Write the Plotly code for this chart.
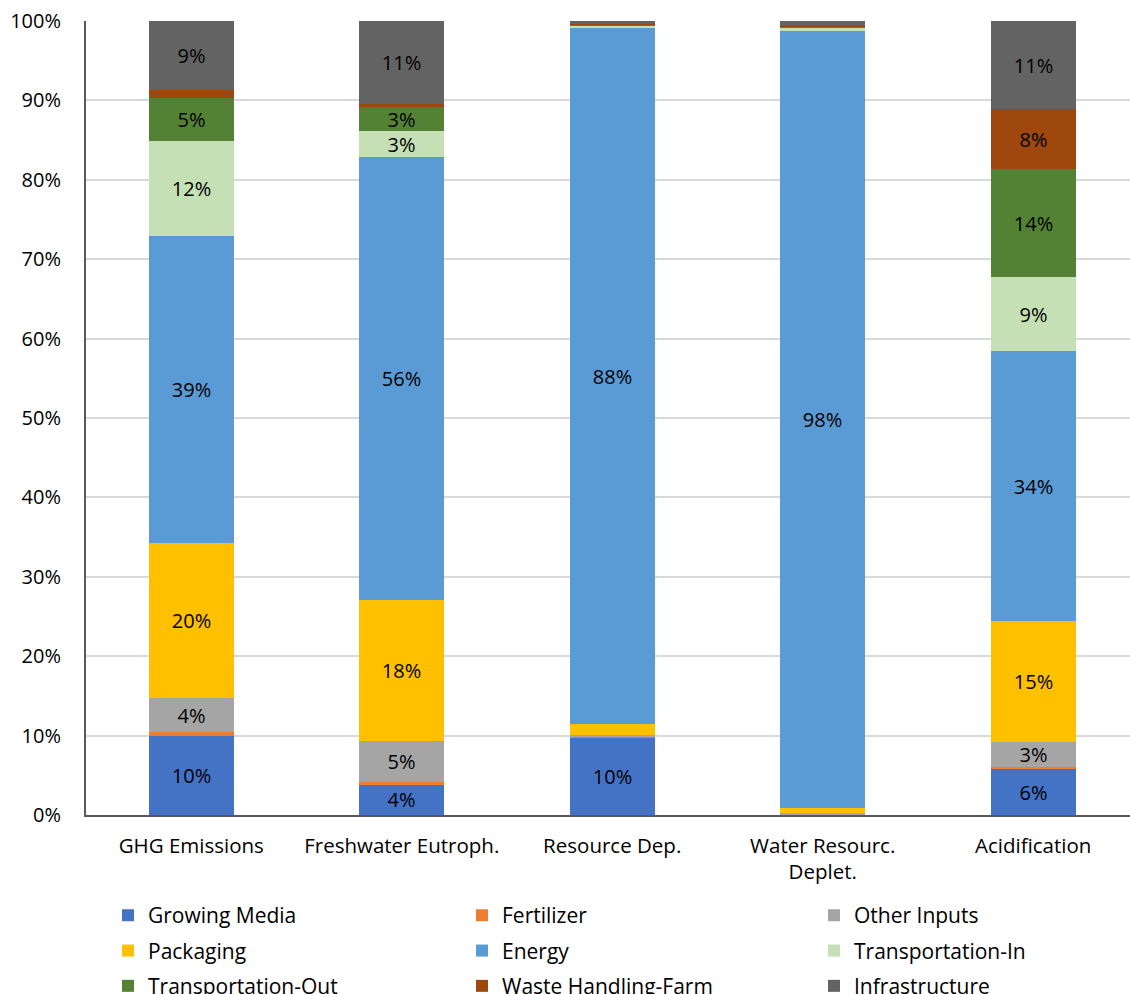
import plotly.graph_objects as go

categories = ["GHG Emissions", "Freshwater Eutroph.", "Resource Dep.", "Water Resourc.<br>Deplet.", "Acidification"]

growing_media = [10.0, 3.9, 9.7, 0.0, 5.8]
fertilizer = [0.4, 0.2, 0.1, 0.0, 0.3]
other_inputs = [4.3, 5.2, 0.3, 0.3, 3.1]
packaging = [19.6, 17.8, 1.4, 0.6, 15.2]
energy = [38.6, 55.8, 87.6, 97.9, 34.0]
transport_in = [12.0, 3.3, 0.3, 0.4, 9.3]
transport_out = [5.4, 3.0, 0.1, 0.1, 13.6]
waste_farm = [1.0, 0.3, 0.1, 0.2, 7.6]
infrastructure = [8.7, 10.6, 0.4, 0.5, 11.1]

series = [
    ("Growing Media", growing_media, "#4472C4", "legend"),
    ("Fertilizer", fertilizer, "#ED7D31", "legend2"),
    ("Other Inputs", other_inputs, "#A5A5A5", "legend3"),
    ("Packaging", packaging, "#FFC000", "legend"),
    ("Energy", energy, "#5B9BD5", "legend2"),
    ("Transportation-In", transport_in, "#C5E0B4", "legend3"),
    ("Transportation-Out", transport_out, "#548235", "legend"),
    ("Waste Handling-Farm", waste_farm, "#9E480E", "legend2"),
    ("Infrastructure", infrastructure, "#636363", "legend3"),
]

FONT = "Open Sans"

def label(v):
    return f"{round(v)}%" if v >= 2.5 else ""

fig = go.Figure()
for name, vals, color, lg in series:
    fig.add_trace(go.Bar(
        name=name, x=categories, y=vals, width=0.404,
        marker=dict(color=color, line=dict(width=0)),
        text=[label(v) for v in vals], textposition="inside",
        insidetextanchor="middle", textangle=0,
        textfont=dict(family=FONT, size=20, color="black"),
        legend=lg, legendgroup=name, hoverinfo="skip",
    ))

legend_common = dict(
    orientation="v", xref="container", yref="container",
    xanchor="left", yanchor="top", y=0.0995,
    font=dict(family=FONT, size=21, color="black"),
    bgcolor="rgba(0,0,0,0)", traceorder="grouped", tracegroupgap=5,
)

fig.update_layout(
    width=1130, height=994,
    margin=dict(l=86, r=0, t=21, b=179, autoexpand=False),
    paper_bgcolor="white", plot_bgcolor="white",
    barmode="stack", bargap=0,
    font=dict(family=FONT, size=20, color="black"),
    uniformtext=dict(minsize=20, mode="show"),
    showlegend=True,
    legend=dict(legend_common, x=108 / 1130),
    legend2=dict(legend_common, x=462 / 1130),
    legend3=dict(legend_common, x=814 / 1130),
    xaxis=dict(
        type="category", range=[-0.5, 4.46],
        showline=True, linecolor="#595959", linewidth=2,
        showgrid=False, ticks="", ticklabelstandoff=11,
        tickfont=dict(family=FONT, size=20.5, color="black"),
        tickangle=0, automargin=False,
        fixedrange=True,
    ),
    yaxis=dict(
        range=[0, 100], dtick=10, ticksuffix="%",
        showline=True, linecolor="#595959", linewidth=2,
        showgrid=True, gridcolor="#D9D9D9", gridwidth=2,
        zeroline=False, ticks="", ticklabelstandoff=19,
        tickfont=dict(family=FONT, size=20, color="black"),
        automargin=False,
        fixedrange=True,
    ),
)

fig.write_html("out.html")
